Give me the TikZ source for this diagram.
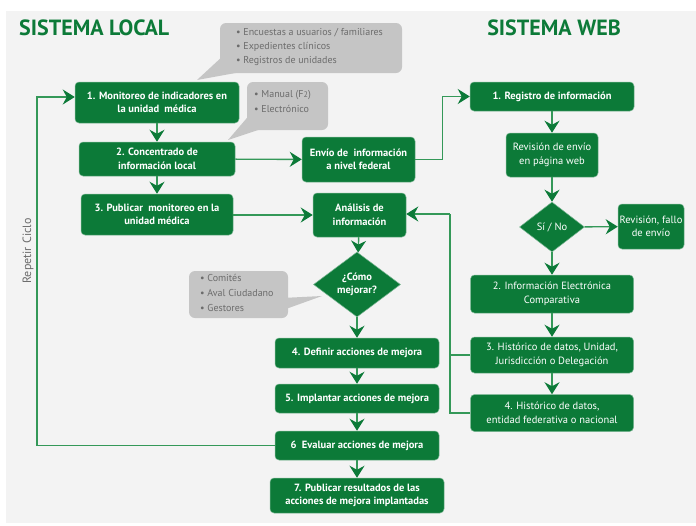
\documentclass[tikz,border=0pt]{standalone}
\usepackage{fontspec}
\setmainfont{PT Sans}
\usetikzlibrary{arrows.meta,shapes.geometric,calc}
\definecolor{boxgreen}{RGB}{12,122,56}
\definecolor{linegreen}{RGB}{52,152,88}
\definecolor{bgpanel}{RGB}{243,243,243}
\definecolor{notegray}{RGB}{197,197,197}
\definecolor{notetext}{RGB}{108,108,108}

\begin{document}
\begin{tikzpicture}[x=1pt,y=-1pt,
  stepbox/.style={rectangle, rounded corners=4pt, fill=boxgreen,
    draw=boxgreen!55!white, line width=0.5pt, text=white, align=center,
    inner sep=1pt, font=\fontsize{10.5}{13.5}\selectfont},
  strong/.style={font=\fontsize{10.5}{13.5}\selectfont\bfseries},
  decision/.style={diamond, fill=boxgreen, draw=boxgreen!55!white,
    line width=0.5pt, text=white, align=center, inner sep=0pt,
    font=\fontsize{10.5}{13.5}\selectfont},
  size/.style 2 args={minimum width=#1pt, minimum height=#2pt},
  flow/.style={draw=linegreen, line width=1.4pt,
    -{Stealth[length=12pt,width=15pt,inset=4pt,color=boxgreen]}},
  plain/.style={draw=linegreen, line width=1.4pt},
  note/.style={fill=notegray, rounded corners=6pt},
  notetxt/.style={text=notetext, align=left, inner sep=0pt,
    font=\fontsize{10}{14}\selectfont},
  heading/.style={text=boxgreen, inner sep=0pt,
    font=\fontsize{22}{24}\selectfont\bfseries}
]
\useasboundingbox (0,0) rectangle (696,525);
\fill[white] (0,0) rectangle (696,525);
\fill[bgpanel] (6,11) rectangle (696,523);

% headings
\node[heading, anchor=west] (tl) at (19,28) {SISTEMA LOCAL};
\node[heading] (tw) at (554,28) {SISTEMA WEB};

% callouts
\fill[note] (220,23) rectangle (402,73);
\fill[notegray] (224,55) -- (197,80) -- (252,70) -- cycle;
\node[notetxt, anchor=north west] (n1) at (236,28)
  {\textbullet\ Encuestas a usuarios / familiares\\
   \textbullet\ Expedientes clínicos\\
   \textbullet\ Registros de unidades};

\fill[note] (247,82) rectangle (328,130);
\fill[notegray] (252,112) -- (228,140) -- (270,126) -- cycle;
\node[notetxt, anchor=north west, font=\fontsize{10}{15.5}\selectfont] (n2) at (254,90)
  {\textbullet\ Manual (F{\footnotesize 2})\\
   \textbullet\ Electrónico};

\fill[note] (189,271) rectangle (288,318);
\fill[notegray] (282,298) -- (322,296) -- (272,314) -- cycle;
\node[notetxt, anchor=north west, font=\fontsize{10}{15}\selectfont] (n3) at (200,274)
  {\textbullet\ Comités\\
   \textbullet\ Aval Ciudadano\\
   \textbullet\ Gestores};

% local system
\node[stepbox, strong, size={164}{41}] (b1) at (157,102.5)
  {1. Monitoreo de indicadores en\\la unidad\ \ médica};
\node[stepbox, strong, size={156}{34}] (b2) at (157,159)
  {2. Concentrado de\\información local};
\node[stepbox, strong, size={152}{41}] (b3) at (157,214.5)
  {3. Publicar\ \ monitoreo en la\\unidad médica};
\node[stepbox, strong, size={113}{45}] (env) at (358.5,159.5)
  {Envío de\ \ información\\a nivel federal};
\node[stepbox, strong, size={93}{44}] (ana) at (359.5,215)
  {Análisis de\\información};
\node[decision, strong, size={87}{65}] (dm) at (357,284.5)
  {¿Cómo\\mejorar?};
\node[stepbox, strong, size={164}{30}] (b4) at (357,353)
  {4. Definir acciones de mejora};
\node[stepbox, strong, size={164}{29}] (b5) at (357,398.5)
  {5. Implantar acciones de mejora};
\node[stepbox, strong, size={164}{29}] (b6) at (357,445.5)
  {6\ \ Evaluar acciones de mejora};
\node[stepbox, strong, size={174}{35}] (b7) at (357,495.5)
  {7. Publicar resultados de las\\acciones de mejora implantadas};

% web system
\node[stepbox, strong, size={164}{29}] (w1) at (552,96.5)
  {1. Registro de información};
\node[stepbox, size={92}{44}] (rev) at (552,155)
  {Revisión de envío\\en página web};
\node[decision, size={65}{50}] (wd) at (552,227) {Sí / No};
\node[stepbox, size={66}{45}] (fallo) at (651,226.5)
  {Revisión, fallo\\de envío};
\node[stepbox, size={163}{38}] (w2) at (552,294)
  {2. Información Electrónica\\Comparativa};
\node[stepbox, size={163}{36}] (w3) at (552,355)
  {3. Histórico de datos, Unidad,\\Jurisdicción o Delegación};
\node[stepbox, size={163}{37}] (w4) at (552,413)
  {4. Histórico de datos,\\entidad federativa o nacional};

\node[text=notetext, rotate=90, inner sep=0pt,
  font=\fontsize{12}{14}\selectfont] (rc) at (28,251) {Repetir Ciclo};

% connectors, local column
\draw[flow] (b1) -- (b2);
\draw[flow] (b2) -- (b3);
\draw[flow] (b2) -- (env);
\draw[flow] (b3.east |- ana.west) -- (ana.west);
\draw[flow] (ana) -- (dm);
\draw[flow] (dm) -- (b4);
\draw[flow] (b4) -- (b5);
\draw[flow] (b5) -- (b6);
\draw[flow] (b6) -- (b7);

% repeat loop
\coordinate (loop) at (37,97);
\draw[flow] (b6.west) -| (loop) -- (b1.west |- loop);

% to the web system
\draw[flow] (env.east) -- ++(27,0) |- (w1.west);

% connectors, web column
\draw[flow] (w1) -- (rev);
\draw[flow] (rev) -- (wd);
\draw[flow] (wd) -- (fallo);
\draw[flow] (wd) -- (w2);
\draw[flow] (w2) -- (w3);
\draw[flow] (w3) -- (w4);

% feedback from history back to analysis
\coordinate (jt) at (450,214);
\draw[plain] (w4.west) -| (jt);
\draw[flow] (jt) -- (ana.east |- jt);
\draw[plain] (w3.west) -- (w3.west -| jt);
\end{tikzpicture}
\end{document}
